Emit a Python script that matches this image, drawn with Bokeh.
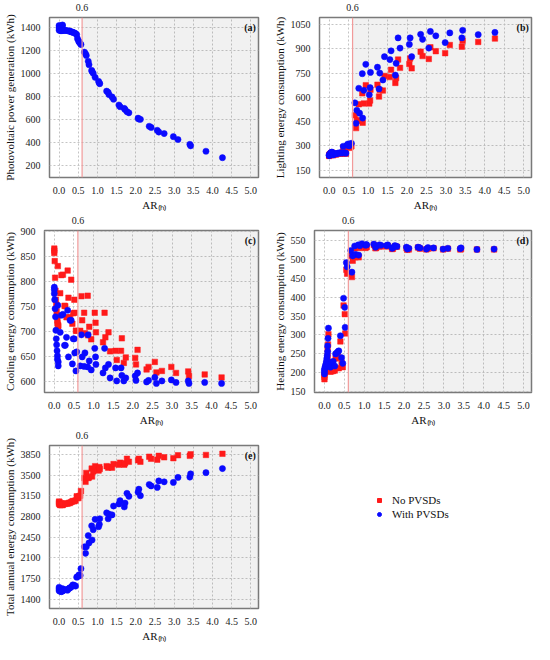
from bokeh.plotting import figure
from bokeh.models import (Range1d, FixedTicker, LinearAxis, PrintfTickFormatter,
                          BoxAnnotation, Span, Label, Legend, LegendItem)
from bokeh.layouts import column, row
from bokeh.embed import file_html
from bokeh.resources import INLINE

FONT = "Liberation Serif"
RED = "#ff1a1a"
BLUE = "#0a0aff"

# ---------------- data ----------------
ar_h = [0.00, 0.00, 0.00, 0.01, 0.02, 0.03, 0.04, 0.05, 0.06, 0.07, 0.08, 0.08, 0.09, 0.10, 0.10,
        0.15, 0.18, 0.22, 0.26, 0.28, 0.31, 0.34, 0.36, 0.40, 0.43, 0.46, 0.48,
        0.51, 0.52, 0.55, 0.57,
        0.66, 0.69, 0.71, 0.76, 0.78, 0.85, 0.86, 0.89, 0.94, 1.03, 1.05, 1.06, 1.24, 1.28, 1.30,
        1.38, 1.42, 1.56, 1.59, 1.70, 1.72, 1.77, 1.82, 2.06, 2.08, 2.12, 2.35, 2.40, 2.56, 2.60,
        2.74, 2.98, 3.10, 3.41, 3.43, 3.83, 4.26]

pv_with = [1420, 1400, 1380, 1415, 1395, 1378, 1385, 1375, 1380, 1378, 1422, 1410, 1425, 1380, 1376,
           1378, 1377, 1375, 1373, 1370, 1367, 1364, 1360, 1357, 1350, 1341, 1306,
           1286, 1278, 1265, 1255,
           1189, 1175, 1160, 1110, 1080, 1030, 1020, 1005, 970, 935, 920, 915, 850, 840, 820,
           800, 780, 730, 715, 700, 690, 672, 662, 615, 608, 605, 545, 535, 510, 495,
           482, 455, 430, 388, 375, 328, 272]

light_no = [238, 240, 243, 245, 248, 250, 252, 255, 257, 258, 252, 248, 245, 253, 242,
            248, 247, 252, 254, 253, 255, 252, 290, 255, 252, 295, 300,
            288, 292, 295, 298,
            490, 410, 457, 557, 457, 625, 443, 562, 675, 562, 580, 647, 678, 605, 645,
            642, 732, 725, 770, 689, 719, 833, 782, 806, 840, 779, 882, 855, 837, 909,
            885, 873, 923, 913, 950, 942, 963]
light_with = [240, 242, 245, 248, 250, 252, 255, 258, 260, 262, 255, 250, 248, 256, 244,
              252, 250, 255, 257, 256, 258, 256, 298, 258, 255, 305, 312,
              300, 310, 312, 316,
              566, 440, 520, 656, 502, 746, 472, 643, 804, 616, 660, 754, 786, 652, 750,
              707, 851, 833, 887, 737, 810, 967, 904, 927, 967, 851, 989, 958, 904, 1007,
              980, 938, 998, 967, 1014, 987, 1001]

cool_no = [866, 862, 857, 841, 808, 782, 764, 754, 741, 732, 723, 717, 831, 713, 711,
           777, 813, 814, 752, 751, 729, 822, 768, 729, 804, 716, 737,
           764, 738, 702, 702,
           702, 771, 723, 738, 697, 772, 693, 710, 685, 738, 718, 699, 679, 738, 689,
           699, 661, 662, 644, 662, 687, 638, 649, 648, 635, 664, 625, 630, 640, 619,
           622, 630, 618, 621, 612, 615, 609]
cool_with = [789, 784, 776, 764, 746, 730, 703, 686, 674, 662, 652, 645, 753, 640, 632,
             699, 733, 735, 673, 673, 689, 743, 650, 723, 723, 636, 686,
             686, 658, 622, 660,
             632, 694, 650, 631, 658, 630, 694, 642, 624, 667, 650, 635, 618, 667, 628,
             635, 608, 628, 602, 628, 613, 602, 608, 612, 603, 618, 600, 603, 609, 597,
             602, 604, 599, 602, 597, 599, 597]

heat_no = [183, 189, 195, 200, 204, 208, 212, 218, 226, 236, 245, 262, 275, 302, 205,
           203, 204, 205, 206, 238, 240, 244, 212, 283, 226, 215, 378,
           355, 304, 472, 462,
           509, 453, 496, 529, 505, 532, 505, 530, 536, 530, 533, 532, 538, 529, 530,
           534, 534, 534, 535, 527, 528, 534, 533, 529, 525, 526, 531, 528, 526, 528,
           529, 526, 528, 526, 527, 526, 526]
heat_with = [197, 203, 208, 212, 216, 220, 224, 230, 238, 246, 256, 271, 291, 318, 222,
             215, 228, 230, 218, 250, 253, 256, 258, 298, 240, 225, 397,
             373, 320, 491, 480,
             523, 466, 509, 535, 513, 538, 511, 536, 541, 537, 539, 538, 540, 532, 534,
             538, 537, 536, 538, 529, 531, 536, 534, 532, 527, 529, 532, 530, 527, 531,
             530, 527, 529, 528, 530, 526, 527]

total_no = [3050, 3030, 3010, 3040, 3000, 2990, 3010, 3020, 2995, 3005, 3000, 3010, 2990, 3000, 3015,
            3010, 3020, 3015, 3030, 3025, 3040, 3050, 3060, 3055, 3070, 3140, 3110,
            3110, 3140, 3150, 3230,
            3450, 3385, 3535, 3450, 3460, 3610, 3475, 3560, 3650, 3575, 3635, 3600, 3650, 3625, 3640,
            3625, 3685, 3675, 3710, 3675, 3700, 3775, 3725, 3750, 3775, 3725, 3810, 3775, 3760, 3825,
            3800, 3785, 3835, 3825, 3850, 3840, 3860]
total_with = [1600, 1570, 1540, 1580, 1555, 1530, 1560, 1545, 1525, 1560, 1550, 1535, 1575, 1550, 1540,
              1555, 1560, 1550, 1580, 1590, 1600, 1620, 1640, 1630, 1620, 1770, 1780,
              1790, 1810, 1800, 1915,
              2285, 2175, 2285, 2475, 2350, 2640, 2400, 2575, 2750, 2625, 2665, 2760, 2860, 2760, 2840,
              2825, 2975, 3010, 3065, 2960, 3025, 3190, 3140, 3210, 3260, 3150, 3340, 3315, 3290, 3400,
              3385, 3375, 3460, 3465, 3520, 3540, 3610]

x_ticks = [0.0, 0.5, 1.0, 1.5, 2.0, 2.5, 3.0, 3.5, 4.0, 4.5, 5.0]
threshold = [0.6]
ticks_a = [200, 400, 600, 800, 1000, 1200, 1400]
ticks_b = [150, 300, 450, 600, 750, 900, 1050]
ticks_c = [600, 650, 700, 750, 800, 850, 900]
ticks_d = [150, 200, 250, 300, 350, 400, 450, 500, 550]
ticks_e = [1400, 1750, 2100, 2450, 2800, 3150, 3500, 3850]

series_labels = ["No PVSDs", "With PVSDs"]
x_title = "AR\u208d\u2095\u208e"

SQ, CI = 5.5, 6.2


def style_axis(ax, label_size="10px"):
    ax.axis_line_color = None
    ax.major_tick_line_color = None
    ax.minor_tick_line_color = None
    ax.major_label_text_font = FONT
    ax.major_label_text_font_size = label_size
    ax.major_label_text_color = "#222222"
    ax.axis_label_text_font = FONT
    ax.axis_label_text_font_size = "11px"
    ax.axis_label_text_font_style = "normal"
    ax.axis_label_text_color = "#111111"
    ax.major_label_standoff = 3
    ax.axis_label_standoff = 2


def make_panel(width, height, y_rng, y_ticks, y_title, tag, series, right_border):
    p = figure(width=width, height=height, output_backend="svg", toolbar_location=None,
               x_range=Range1d(-0.25, 5.2), y_range=Range1d(*y_rng),
               min_border_left=0, min_border_right=right_border,
               min_border_top=0, min_border_bottom=0)
    p.outline_line_color = "#7a7a7a"
    p.outline_line_width = 1.5
    p.background_fill_color = "white"
    p.border_fill_color = "white"

    p.xaxis.ticker = FixedTicker(ticks=x_ticks)
    p.xaxis.formatter = PrintfTickFormatter(format="%.1f")
    p.yaxis.ticker = FixedTicker(ticks=y_ticks)
    p.xaxis.axis_label = x_title
    p.yaxis.axis_label = y_title
    for ax in p.xaxis + p.yaxis:
        style_axis(ax)

    p.xgrid.ticker = FixedTicker(ticks=x_ticks)
    p.ygrid.ticker = FixedTicker(ticks=y_ticks)
    p.grid.grid_line_color = "#c4c4c4"
    p.grid.grid_line_dash = "2 2"
    p.grid.grid_line_width = 1

    top = LinearAxis(ticker=FixedTicker(ticks=threshold))
    style_axis(top)
    top.major_label_standoff = 1
    p.add_layout(top, "above")

    p.add_layout(BoxAnnotation(left=threshold[0], fill_color="#808080", fill_alpha=0.11,
                               line_color=None, level="underlay"))
    p.add_layout(Span(location=threshold[0], dimension="height",
                      line_color="#f29a9a", line_width=1.2))

    for ys, marker, color, size in series:
        p.scatter(ar_h, ys, marker=marker, size=size, fill_color=color,
                  line_color=color, line_width=0.5)

    span = y_rng[1] - y_rng[0]
    p.add_layout(Label(x=5.13, y=y_rng[1] - 0.025 * span, text=tag, text_align="right",
                       text_baseline="top", text_font=FONT, text_font_style="bold",
                       text_font_size="10px", text_color="#111111"))
    return p


LW, RW = 270, 264
pa = make_panel(LW, 213, (100, 1490), ticks_a, "Photovoltaic power generation (kWh)", "(a)",
                [(pv_with, "circle", BLUE, CI)], 12)
pb = make_panel(RW, 213, (105, 1093), ticks_b, "Lighting energy consumption (kWh)", "(b)",
                [(light_no, "square", RED, SQ), (light_with, "circle", BLUE, CI)], 3)
pc = make_panel(LW, 215, (579, 902), ticks_c, "Cooling energy consumption (kWh)", "(c)",
                [(cool_no, "square", RED, SQ), (cool_with, "circle", BLUE, CI)], 12)
pd_ = make_panel(RW, 215, (148, 576), ticks_d, "Heating energy consumption (kWh)", "(d)",
                 [(heat_no, "square", RED, SQ), (heat_with, "circle", BLUE, CI)], 3)
pe = make_panel(LW, 216, (1240, 4000), ticks_e, "Total annual energy consumption (kWh)", "(e)",
                [(total_no, "square", RED, SQ), (total_with, "circle", BLUE, CI)], 12)

# legend panel: one hidden point each (outside the visible range) so the legend has glyphs
pl = figure(width=RW, height=216, output_backend="svg", toolbar_location=None,
            x_range=Range1d(0, 1), y_range=Range1d(0, 1),
            x_axis_type=None, y_axis_type=None, min_border=0)
pl.outline_line_color = None
pl.background_fill_color = "white"
pl.border_fill_color = "white"
r1 = pl.scatter([-10], [-10], marker="square", size=SQ, fill_color=RED, line_color=RED)
r2 = pl.scatter([-10], [-10], marker="circle", size=CI, fill_color=BLUE, line_color=BLUE)
legend = Legend(items=[LegendItem(label=series_labels[0], renderers=[r1]),
                       LegendItem(label=series_labels[1], renderers=[r2])],
                location=(104, 88))
legend.border_line_color = None
legend.background_fill_alpha = 0
legend.label_text_font = FONT
legend.label_text_font_size = "11px"
legend.label_text_color = "#111111"
legend.glyph_width = 10
legend.glyph_height = 10
legend.label_standoff = 8
legend.label_height = 11
legend.spacing = 2
legend.padding = 0
legend.margin = 0
pl.add_layout(legend)

layout = column(row(pa, pb), row(pc, pd_), row(pe, pl))

with open("out.html", "w") as f:
    f.write(file_html(layout, INLINE))
